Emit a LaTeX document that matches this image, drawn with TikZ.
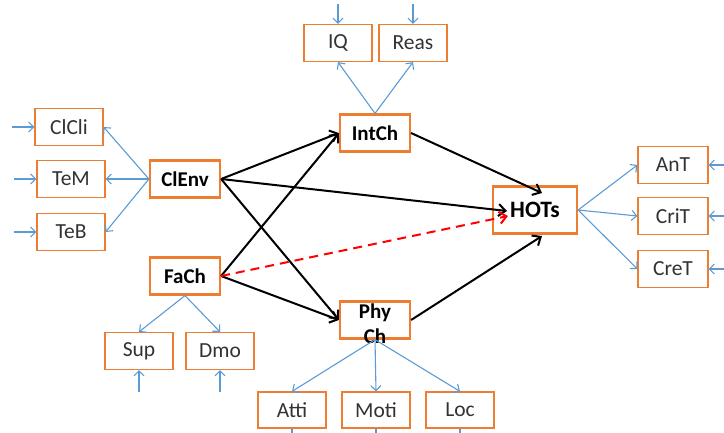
\documentclass[tikz,border=0pt]{standalone}
\usepackage{fontspec}
\setmainfont{Carlito}
\usetikzlibrary{arrows.meta}
\definecolor{boxclr}{RGB}{237,125,49}
\definecolor{linkclr}{RGB}{91,155,213}
\definecolor{hypclr}{RGB}{255,0,0}
\definecolor{txtclr}{RGB}{50,50,50}
\tikzset{ %
  ,x=1pt, y=-1pt
  ,every node/.style={font=\fontsize{21.5}{26}\selectfont}
  ,factor/.style={draw=boxclr, line width=2.2pt, rectangle, inner sep=0, minimum width=70pt, minimum height=37pt, font=\fontsize{21}{26}\selectfont\bfseries}
  ,item/.style={draw=boxclr, line width=1.2pt, rectangle, inner sep=0, minimum width=68pt, minimum height=37pt, text=txtclr}
  ,effect/.style={-{Straight Barb[length=7pt,width=12pt]}, black, line width=2pt}
  ,hyp/.style={effect, hypclr, dash pattern=on 9pt off 6pt}
  ,link/.style={-{Straight Barb[length=5pt,width=10pt]}, linkclr, line width=1.1pt}
  ,stub/.style={linkclr, line width=1.1pt}
}

\begin{document}
\begin{tikzpicture}
  \useasboundingbox (0,0) rectangle (724,432);
  % main factors
  \node[factor] (ClEnv) at (185,179) {ClEnv};
  \node[factor] (FaCh) at (185,276) {FaCh};
  \node[factor] (IntCh) at (375,133) {IntCh};
  \node[factor, label={[align=center, yshift=-4pt, font=\fontsize{21}{25}\selectfont\bfseries]center:Phy\\Ch}] (PhyCh) at (375,320) {};
  \node[factor, minimum width=84pt, minimum height=47pt, font=\fontsize{23.5}{26}\selectfont\bfseries] (HOTs) at (535,210) {HOTs};
  % indicators
  \node[item] (ClCli) at (69,127) {ClCli};
  \node[item] (TeM) at (71,179) {TeM};
  \node[item] (TeB) at (71,232) {TeB};
  \node[item] (Sup) at (139,351) {Sup};
  \node[item] (Dmo) at (220,351) {Dmo};
  \node[item] (IQ) at (338,43) {IQ};
  \node[item] (Reas) at (413,43) {Reas};
  \node[item, minimum height=36pt] (Atti) at (292,410) {Atti};
  \node[item, minimum height=36pt] (Moti) at (376,410) {Moti};
  \node[item, minimum height=36pt] (Loc) at (460,410) {Loc};
  \node[item, minimum width=70pt] (AnT) at (673,165) {AnT};
  \node[item, minimum width=70pt] (CriT) at (673,216) {CriT};
  \node[item, minimum width=70pt] (CreT) at (673,269) {CreT};
  % arrow ends inside HOTs
  \coordinate (hotsN) at (542,193);
  \coordinate (hotsW) at (507,211);
  \coordinate (hotsR) at (508,216);
  \coordinate (hotsS) at (542,236);
  % structural paths
  \draw[effect] (ClEnv.east) -- (IntCh.west);
  \draw[effect] (ClEnv.east) -- (hotsW);
  \draw[effect] (ClEnv.east) -- (PhyCh.west);
  \draw[effect] (FaCh.east) -- (IntCh.west);
  \draw[effect] (FaCh.east) -- (PhyCh.west);
  \draw[effect] (IntCh.east) -- (hotsN);
  \draw[effect] (PhyCh.east) -- (hotsS);
  \draw[hyp] (FaCh.east) -- (hotsR);
  % measurement links
  \foreach \n in {ClCli,TeM,TeB} \draw[link] (ClEnv.west) -- (\n.east);
  \foreach \n in {Sup,Dmo} \draw[link] (FaCh.south) -- (\n.north);
  \foreach \n in {IQ,Reas} \draw[link] (IntCh.north) -- (\n.south);
  \foreach \n in {Atti,Moti,Loc} \draw[link] (PhyCh.south) -- (\n.north);
  \foreach \n in {AnT,CriT,CreT} \draw[link] (HOTs.east) -- (\n.west);
  % error terms
  \foreach \n in {ClCli,TeM,TeB} \draw[link] (\n.west) ++(-22,0) -- (\n.west);
  \foreach \n in {Sup,Dmo} \draw[link] (\n.south) ++(0,22) -- (\n.south);
  \foreach \n in {IQ,Reas} \draw[link] (\n.north) ++(0,-20) -- (\n.north);
  \foreach \n in {AnT,CriT,CreT} \draw[link] (\n.east) ++(16,0) -- (\n.east);
  \foreach \n in {Atti,Moti,Loc} \draw[stub] (\n.south) -- ++(0,4);
\end{tikzpicture}
\end{document}
